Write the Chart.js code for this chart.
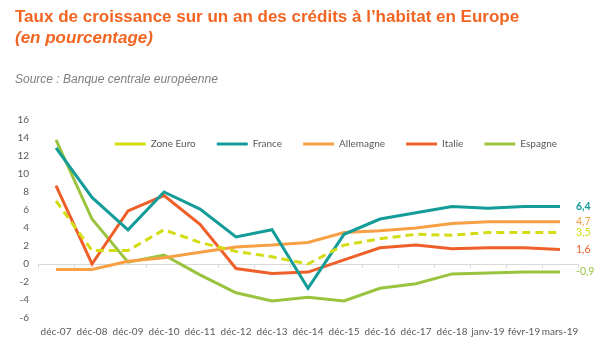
<!DOCTYPE html>
<html>
<head>
<meta charset="utf-8">
<script src="https://cdn.jsdelivr.net/npm/chart.js@4"></script>
<style>
  body { margin: 0; background: #fff; width: 599px; height: 353px; overflow: hidden; position: relative; }
  .title { position: absolute; z-index: 2; left: 15px; top: 6px; font: bold 17px 'Liberation Sans', Arial, sans-serif; color: #F26522; line-height: 21px; white-space: nowrap; }
  .source { position: absolute; z-index: 2; left: 15px; top: 72px; font: italic 12px 'Liberation Sans', Arial, sans-serif; color: #7f7f7f; line-height: 14px; }
  canvas { position: absolute; left: 0; top: 0; z-index: 1; }
</style>
</head>
<body>
<div class="title">Taux de croissance sur un an des crédits à l’habitat en Europe<br><i>(en pourcentage)</i></div>
<div class="source">Source : Banque centrale européenne</div>
<canvas id="chart" width="599" height="353"></canvas>
<script>
// Values
const categories = ['déc-07', 'déc-08', 'déc-09', 'déc-10', 'déc-11', 'déc-12', 'déc-13', 'déc-14',
  'déc-15', 'déc-16', 'déc-17', 'déc-18', 'janv-19', 'févr-19', 'mars-19'];
const zoneEuro  = [7.0, 1.5, 1.5, 3.8, 2.4, 1.4, 0.8, 0.0, 2.1, 2.8, 3.3, 3.2, 3.5, 3.5, 3.5];
const france    = [12.9, 7.4, 3.8, 8.0, 6.1, 3.0, 3.8, -2.7, 3.3, 5.0, 5.7, 6.4, 6.2, 6.4, 6.4];
const allemagne = [-0.6, -0.6, 0.3, 0.7, 1.3, 1.9, 2.1, 2.4, 3.5, 3.7, 4.0, 4.5, 4.7, 4.7, 4.7];
const italie    = [8.7, 0.0, 5.9, 7.6, 4.4, -0.5, -1.05, -0.9, 0.45, 1.8, 2.1, 1.7, 1.8, 1.8, 1.6];
const espagne   = [13.8, 5.0, 0.2, 1.0, -1.2, -3.2, -4.1, -3.7, -4.1, -2.7, -2.2, -1.1, -1.0, -0.9, -0.9];
const yTicks = [-6, -4, -2, 0, 2, 4, 6, 8, 10, 12, 14, 16];

const FONT = 'Lato, "Open Sans", sans-serif';
const GREY = '#595959';
const LEGEND_Y = 144; // legend row sits inside the plot, like the original

// small tick marks on the zero line, between categories
const zeroTicks = {
  id: 'zeroTicks',
  beforeDatasetsDraw(chart) {
    const ctx = chart.ctx;
    const xs = chart.scales.x;
    const y0 = Math.round(chart.scales.y.getPixelForValue(0));
    ctx.save();
    ctx.strokeStyle = '#d9d9d9';
    ctx.lineWidth = 1;
    ctx.beginPath();
    for (let i = 0; i <= categories.length; i++) {
      const px = Math.round(xs.getPixelForValue(i - 0.5)) + 0.5;
      ctx.moveTo(px, y0);
      ctx.lineTo(px, y0 + 4);
    }
    ctx.stroke();
    ctx.restore();
  }
};

// last value written at the right end of each line
const endLabels = {
  id: 'endLabels',
  afterDatasetsDraw(chart) {
    const ctx = chart.ctx;
    ctx.save();
    ctx.textBaseline = 'middle';
    ctx.textAlign = 'left';
    chart.data.datasets.forEach((ds, i) => {
      const meta = chart.getDatasetMeta(i);
      const pt = meta.data[meta.data.length - 1];
      const v = ds.data[ds.data.length - 1];
      ctx.font = (ds.label === 'France' ? 'bold ' : '') + '10.5px ' + FONT;
      ctx.fillStyle = ds.borderColor;
      ctx.fillText(v.toFixed(1).replace('.', ','), chart.chartArea.right - 2, pt.y);
    });
    ctx.restore();
  }
};

// move the legend down into the plot area
const legendShift = {
  id: 'legendShift',
  afterLayout(chart) {
    const lg = chart.legend;
    const opts = lg.options.labels;
    const current = lg.top + opts.padding + opts.font.size / 2;
    const d = LEGEND_Y - current;
    lg.top += d;
    lg.bottom += d;
  }
};

function line(label, data, color, dash) {
  return {
    label: label,
    data: data,
    borderColor: color,
    backgroundColor: color,
    borderWidth: 3,
    borderDash: dash || [],
    pointRadius: 0,
    tension: 0,
    fill: false
  };
}

new Chart(document.getElementById('chart'), {
  type: 'line',
  data: {
    labels: categories,
    datasets: [
      line('Zone Euro', zoneEuro, '#D4DC14', [8, 5]),
      line('France', france, '#139C98'),
      line('Allemagne', allemagne, '#F7A045'),
      line('Italie', italie, '#EF5F2A'),
      line('Espagne', espagne, '#9AC43F')
    ]
  },
  options: {
    responsive: false,
    animation: false,
    layout: { padding: { top: 79, right: 21, left: 0, bottom: 0 } },
    scales: {
      x: {
        offset: true,
        grid: { display: false, drawTicks: false },
        border: { display: false },
        ticks: { color: GREY, font: { family: FONT, size: 10 }, padding: 8, maxRotation: 0, autoSkip: false },
        afterFit(scale) { scale.height = 35; }
      },
      y: {
        min: -6,
        max: 16,
        afterBuildTicks(scale) { scale.ticks = yTicks.map(v => ({ value: v })); },
        grid: {
          drawTicks: false,
          color: c => (c.tick && c.tick.value === 0 ? '#d9d9d9' : 'rgba(0,0,0,0)')
        },
        border: { display: false },
        ticks: { color: GREY, font: { family: FONT, size: 10 }, padding: 9 },
        afterFit(scale) { scale.width = 38; }
      }
    },
    plugins: {
      legend: {
        position: 'top',
        align: 'end',
        labels: {
          usePointStyle: true,
          pointStyle: 'line',
          pointStyleWidth: 31,
          padding: 21,
          color: GREY,
          font: { family: FONT, size: 10 }
        }
      },
      tooltip: { enabled: false }
    }
  },
  plugins: [zeroTicks, endLabels, legendShift]
});
</script>
</body>
</html>
